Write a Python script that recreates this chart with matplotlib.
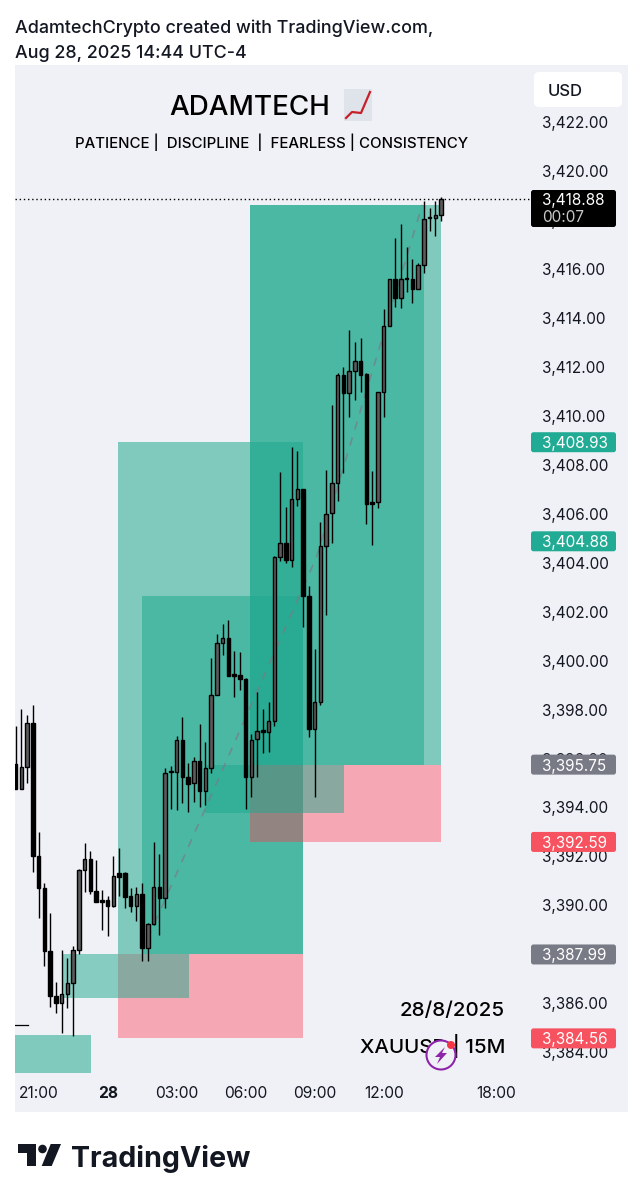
import matplotlib
matplotlib.use("Agg")
import matplotlib.pyplot as plt
from matplotlib.patches import FancyBboxPatch, Polygon, Circle, Rectangle
from matplotlib.lines import Line2D
from matplotlib.transforms import IdentityTransform

plt.rcParams["font.family"] = ["Inter", "DejaVu Sans"]

# candles, bar 0 is the first one on the left
opens = [3395.78, 3394.74, 3395.64, 3397.47, 3392.01, 3390.69, 3388.14, 3386.30, 3386.02, 3386.37,
         3386.82, 3388.17, 3391.44, 3391.91, 3390.58, 3390.23, 3390.23, 3389.97, 3391.31, 3391.32,
         3390.38, 3389.97, 3390.46, 3388.27, 3389.23, 3390.76, 3390.31, 3395.43, 3395.46, 3396.76,
         3395.26, 3394.99, 3395.90, 3394.67, 3395.62, 3398.58, 3400.72, 3400.94, 3399.44, 3399.41,
         3399.27, 3395.26, 3396.78, 3397.15, 3397.07, 3397.55, 3404.24, 3404.81, 3404.12, 3406.62,
         3407.01, 3402.66, 3397.21, 3398.31, 3404.70, 3406.02, 3407.25, 3411.66, 3410.93, 3411.83,
         3412.25, 3411.70, 3406.48, 3406.50, 3410.98, 3413.69, 3415.59, 3414.81, 3415.66, 3415.62,
         3415.19, 3416.19, 3418.10, 3418.11, 3418.23]
closes = [3394.74, 3395.64, 3397.47, 3392.01, 3390.69, 3388.14, 3386.30, 3386.02, 3386.37, 3386.82,
          3388.17, 3391.44, 3391.91, 3390.58, 3390.12, 3390.12, 3389.97, 3391.18, 3391.17, 3390.35,
          3389.97, 3390.46, 3388.27, 3389.23, 3390.76, 3390.31, 3395.42, 3395.49, 3396.76, 3395.26,
          3394.96, 3395.90, 3394.67, 3395.60, 3398.58, 3400.72, 3400.94, 3399.37, 3399.39, 3399.25,
          3395.26, 3396.76, 3397.14, 3397.07, 3397.55, 3404.24, 3404.81, 3404.12, 3406.62, 3407.01,
          3402.66, 3397.21, 3398.31, 3404.70, 3406.01, 3407.25, 3411.66, 3410.93, 3411.83, 3412.25,
          3411.68, 3406.40, 3406.40, 3410.98, 3413.69, 3415.59, 3414.81, 3415.59, 3415.62, 3415.19,
          3416.19, 3418.04, 3418.15, 3418.23, 3418.88]
highs = [3397.33, 3398.01, 3397.78, 3398.19, 3392.98, 3390.90, 3389.70, 3386.88, 3388.17, 3387.83,
         3388.33, 3391.47, 3392.53, 3392.23, 3391.85, 3390.62, 3390.38, 3392.01, 3392.33, 3391.37,
         3390.69, 3390.73, 3390.90, 3389.26, 3392.60, 3392.10, 3395.60, 3395.69, 3396.92, 3397.71,
         3395.80, 3396.08, 3397.41, 3396.69, 3400.12, 3401.09, 3401.50, 3401.66, 3400.41, 3400.35,
         3399.28, 3397.00, 3398.72, 3398.04, 3398.31, 3404.28, 3407.73, 3406.30, 3408.75, 3408.57,
         3407.02, 3403.05, 3400.46, 3405.68, 3407.80, 3410.45, 3411.77, 3411.99, 3413.52, 3413.04,
         3413.19, 3411.74, 3407.75, 3411.00, 3414.36, 3415.61, 3417.26, 3417.85, 3416.92, 3416.41,
         3416.27, 3418.80, 3418.49, 3418.80, 3418.95]
lows = [3394.74, 3394.74, 3394.99, 3391.37, 3389.49, 3387.52, 3385.85, 3385.58, 3384.79, 3385.79,
        3384.66, 3387.99, 3390.56, 3390.45, 3390.12, 3388.99, 3388.74, 3389.94, 3390.38, 3389.87,
        3389.74, 3389.37, 3387.72, 3387.72, 3389.19, 3388.78, 3389.87, 3393.92, 3393.89, 3394.17,
        3393.83, 3394.24, 3394.03, 3394.10, 3395.39, 3398.58, 3400.23, 3399.37, 3398.50, 3398.80,
        3393.94, 3394.41, 3395.26, 3396.24, 3396.28, 3397.33, 3404.09, 3404.01, 3403.82, 3406.34,
        3401.39, 3396.89, 3394.41, 3398.19, 3401.87, 3404.79, 3406.54, 3407.68, 3409.97, 3410.65,
        3410.99, 3405.58, 3404.73, 3406.25, 3409.97, 3413.69, 3414.47, 3414.42, 3415.08, 3414.61,
        3415.19, 3415.83, 3417.58, 3417.37, 3417.99]

time_pos = [4, 16, 28, 40, 52, 64, 83.6]
time_labels = ["21:00", "28", "03:00", "06:00", "09:00", "12:00", "18:00"]
price_ticks = list(range(3384, 3424, 2))

# position boxes: left bar, right bar, top price, bottom price
teal_boxes = [(-0.12, 13.1, 3384.69, 3383.14),
              (17.8, 49.97, 3408.93, 3387.99),
              (21.97, 49.97, 3402.64, 3387.99),
              (40.75, 73.97, 3418.63, 3395.75),
              (40.75, 71.0, 3418.63, 3395.75)]
pink_boxes = [(17.8, 49.97, 3387.99, 3384.56),
              (40.75, 73.97, 3395.75, 3392.59)]
top_boxes = [(8.05, 30.14, 3387.99, 3386.21),
             (32.9, 57.1, 3395.75, 3393.77)]
path_x = [23, 52.3, 70.7]
path_y = [3388.65, 3404.23, 3418.63]

last_price = 3418.88
green_tags = [3408.93, 3404.88]
gray_tags = [3395.75, 3387.99]
red_tags = [3392.59, 3384.56]

TEAL = "#1fa98e"
PINK = "#ff3a50"

W, H = 637, 1200
fig = plt.figure(figsize=(W / 100, H / 100), dpi=100, facecolor="white")


def P(x, y):
    # picture pixels to display coordinates
    return (x, H - y)


def add_px(artist):
    artist.set_transform(IdentityTransform())
    fig.add_artist(artist)


panel = Rectangle(P(15, 1112), 613, 1112 - 65, facecolor="#f0f1f6", edgecolor="none", zorder=-5)
add_px(panel)

ax = fig.add_axes([15 / W, 1 - 1078 / H, (530 - 15) / W, (1078 - 65) / H])
ax.patch.set_alpha(0)
ax.set_xlim(-0.12, 89.44)
ax.set_ylim(3382.94, 3424.35)
for s in ax.spines.values():
    s.set_visible(False)

for (x0, x1, top, bot) in teal_boxes:
    ax.add_patch(Rectangle((x0, bot), x1 - x0, top - bot, facecolor=TEAL, alpha=0.54, edgecolor="none", zorder=1))
for (x0, x1, top, bot) in pink_boxes:
    ax.add_patch(Rectangle((x0, bot), x1 - x0, top - bot, facecolor=PINK, alpha=0.4, edgecolor="none", zorder=1.2))
for (x0, x1, top, bot) in top_boxes:
    ax.add_patch(Rectangle((x0, bot), x1 - x0, top - bot, facecolor=TEAL, alpha=0.5, edgecolor="none", zorder=1.4))

ax.plot(path_x, path_y, color="#787b86", lw=1.2, ls=(0, (5, 5)), alpha=0.7, zorder=1.6)
ax.plot([-0.12, 2.1], [3385.1, 3385.1], color="black", lw=0.9, zorder=1.6)
ax.axhline(last_price, color="black", lw=1.0, ls=(0, (1, 2)), zorder=1.8)

bars = list(range(len(opens)))
ax.vlines(bars, lows, highs, color="black", lw=1.0, zorder=2)
heights = [abs(c - o) for o, c in zip(opens, closes)]
bottoms = [min(o, c) for o, c in zip(opens, closes)]
fills = ["#5c5c5c" if c >= o else "black" for o, c in zip(opens, closes)]
ax.bar(bars, heights, bottom=bottoms, width=0.6, color=fills, edgecolor="black", linewidth=1.0, zorder=2.2)

ax.yaxis.tick_right()
ax.set_yticks(price_ticks)
ax.set_yticklabels([f"{p:,.2f}" for p in price_ticks], fontsize=11, color="#131722")
ax.tick_params(axis="y", length=0, pad=8.5)
ax.set_xticks(time_pos)
ax.set_xticklabels(time_labels, fontsize=11.2, color="#131722")
ax.tick_params(axis="x", length=0, pad=5.5)
ax.get_xticklabels()[1].set_fontweight("bold")


def price_y(p):
    return ax.transData.transform((0, p))[1]


def tag(p, color):
    y = price_y(p)
    add_px(FancyBboxPatch((531, y - 10), 85, 20, boxstyle="round,pad=0,rounding_size=2.5",
                          facecolor=color, edgecolor="none", zorder=5))
    fig.text(542 / W, y / H, f"{p:,.2f}", color="white", fontsize=11, va="center_baseline", zorder=6)


for p in green_tags:
    tag(p, "#22ab94")
for p in gray_tags:
    tag(p, "#787b86")
for p in red_tags:
    tag(p, "#f7525f")

# last price box
add_px(FancyBboxPatch((531, H - 227), 85, 37, boxstyle="round,pad=0,rounding_size=2.5",
                      facecolor="black", edgecolor="none", zorder=5))
fig.text(542 / W, 1 - 199 / H, "3,418.88", color="white", fontsize=11, va="center_baseline", zorder=6)
fig.text(542 / W, 1 - 216 / H, "00:07", color="#c8c8c8", fontsize=11, va="center_baseline", zorder=6)

# currency box
add_px(FancyBboxPatch((534, H - 107), 88, 35, boxstyle="round,pad=0,rounding_size=5",
                      facecolor="white", edgecolor="none", zorder=5))
fig.text(548 / W, 1 - 89.5 / H, "USD", color="#131722", fontsize=12, fontweight="medium", va="center_baseline", zorder=6)

# header and watermark
fig.text(15 / W, 1 - 26 / H, "AdamtechCrypto created with TradingView.com,", fontsize=12.9,
         fontweight="medium", color="#131722", va="center_baseline")
fig.text(15 / W, 1 - 51 / H, "Aug 28, 2025 14:44 UTC-4", fontsize=12.9, fontweight="medium", color="#131722",
         va="center_baseline")
fig.text(169 / W, 1 - 105 / H, "ADAMTECH", fontsize=20, fontweight="medium", color="black", va="center_baseline")
fig.text(271.5 / W, 1 - 140.5 / H, "PATIENCE |  DISCIPLINE  |  FEARLESS | CONSISTENCY", fontsize=10.8,
         fontweight="medium", color="black", ha="center", va="center_baseline")
fig.text(505 / W, 1 - 1009 / H, "28/8/2025", fontsize=14.8, fontweight="medium", color="black", ha="right",
         va="center_baseline")
fig.text(505 / W, 1 - 1043 / H, "XAUUSD | 15M", fontsize=14.8, fontweight="medium", color="black", ha="right",
         va="center_baseline")

# chart emoji next to the title
add_px(Rectangle(P(344, 121), 28, 32, facecolor="#dfe3ea", edgecolor="none", zorder=5))
emoji_line = Line2D([346, 352, 361, 370], [H - 118, H - 112, H - 113, H - 92],
                    color="#c8202a", lw=1.6, zorder=6)
add_px(emoji_line)

# purple badge
add_px(Circle(P(441, 1055), 14.5, facecolor="#f0f1f6", edgecolor="#8e24aa", lw=1.5, zorder=7))
add_px(Polygon([P(445, 1047), P(435, 1057), P(440, 1057), P(437, 1064), P(447, 1053), P(442, 1053)],
               facecolor="#8e24aa", edgecolor="none", zorder=8))
add_px(Circle(P(451, 1045), 4, facecolor="#f23645", edgecolor="none", zorder=8))

# TradingView logo
add_px(Polygon([P(17.5, 1144), P(36, 1144), P(36, 1166), P(27, 1166), P(27, 1153), P(17.5, 1153)],
               facecolor="#131722", edgecolor="none"))
add_px(Circle(P(42.5, 1149), 4.3, facecolor="#131722", edgecolor="none"))
add_px(Polygon([P(50.7, 1144), P(61, 1144), P(51.7, 1166), P(41.7, 1166)], facecolor="#131722", edgecolor="none"))
fig.text(71 / W, 1 - 1156 / H, "TradingView", fontsize=20.6, fontweight="bold", color="#131722", va="center_baseline")

fig.savefig("out.png", dpi=100)
